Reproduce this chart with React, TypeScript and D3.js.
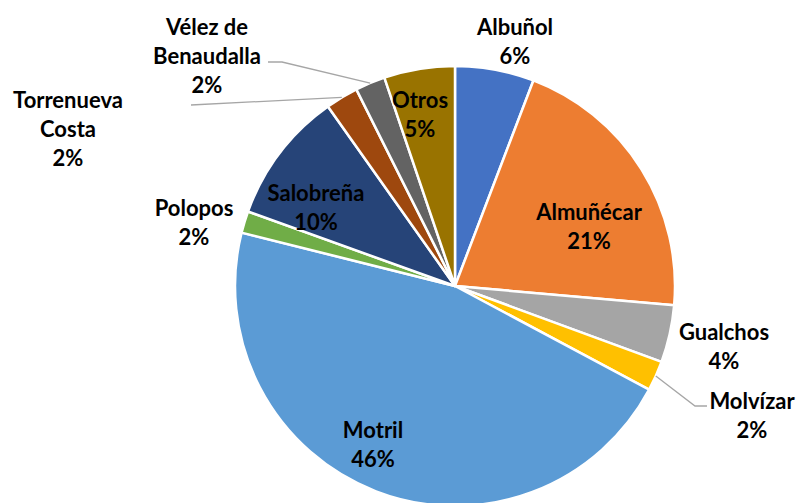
import React, { useEffect, useRef } from 'react';
import * as d3 from 'd3';

const WIDTH = 798;
const HEIGHT = 503;

const municipios = [
  'Albuñol', 'Almuñécar', 'Gualchos', 'Molvízar', 'Motril',
  'Polopos', 'Salobreña', 'Torrenueva Costa', 'Vélez de Benaudalla', 'Otros',
];
const shares = [5.8, 20.6, 4.2, 2.2, 46.1, 1.6, 9.7, 2.4, 2.2, 5.2];
const colors = [
  '#4472C4', '#ED7D31', '#A5A5A5', '#FFC000', '#5B9BD5',
  '#70AD47', '#264478', '#9E480E', '#636363', '#997300',
];

// label layout (text lines + centre of first line), leader lines for outside labels
const labelLines: Record<string, string[]> = {
  'Torrenueva Costa': ['Torrenueva', 'Costa'],
  'Vélez de Benaudalla': ['Vélez de', 'Benaudalla'],
};
const labelPos: Record<string, [number, number]> = {
  'Albuñol': [515, 27],
  'Almuñécar': [589, 212],
  'Gualchos': [724, 332],
  'Molvízar': [752, 401],
  'Motril': [373, 430],
  'Polopos': [194, 208],
  'Salobreña': [316, 193],
  'Torrenueva Costa': [68, 100],
  'Vélez de Benaudalla': [207, 27],
  'Otros': [420, 100],
};
const leaders: Record<string, [number, number][]> = {
  'Torrenueva Costa': [[191, 105]],
  'Vélez de Benaudalla': [[282, 62], [268, 62]],
  'Molvízar': [[695, 406], [707, 406]],
};

const CX = 455;
const CY = 286;
const R = 220;
const LINE_H = 29;

export default function App() {
  const svgRef = useRef<SVGSVGElement | null>(null);

  useEffect(() => {
    if (!svgRef.current) return;
    const svg = d3.select(svgRef.current);
    svg.selectAll('*').remove();

    const data = municipios.map((name, i) => ({ name, value: shares[i], color: colors[i] }));
    const pie = d3.pie<typeof data[number]>().sort(null).value(d => d.value);
    const arcs = pie(data);
    const arc = d3.arc<d3.PieArcDatum<typeof data[number]>>().innerRadius(0).outerRadius(R);

    const g = svg.append('g').attr('transform', `translate(${CX},${CY})`);
    g.selectAll('path')
      .data(arcs)
      .join('path')
      .attr('d', arc as any)
      .attr('fill', d => d.data.color)
      .attr('stroke', '#ffffff')
      .attr('stroke-width', 2.5)
      .attr('stroke-linejoin', 'round');

    // leader lines
    arcs.forEach(a => {
      const pts = leaders[a.data.name];
      if (!pts) return;
      const mid = (a.startAngle + a.endAngle) / 2;
      const start: [number, number] = [CX + Math.sin(mid) * R, CY - Math.cos(mid) * R];
      svg.append('path')
        .attr('d', d3.line()([start, ...pts]) as string)
        .attr('fill', 'none')
        .attr('stroke', '#A6A6A6')
        .attr('stroke-width', 1.3);
    });

    const total = d3.sum(shares);
    arcs.forEach(a => {
      const name = a.data.name;
      const [x, y] = labelPos[name];
      const lines = [...(labelLines[name] ?? [name]), `${Math.round((a.data.value / total) * 100)}%`];
      const t = svg.append('text')
        .attr('text-anchor', 'middle')
        .attr('font-family', 'Lato, "Noto Sans", sans-serif')
        .attr('font-weight', 700)
        .attr('font-size', '22px')
        .attr('fill', '#000000');
      lines.forEach((line, i) => {
        t.append('tspan')
          .attr('x', x)
          .attr('y', y + i * LINE_H)
          .attr('dy', '0.36em')
          .text(line);
      });
    });
  }, []);

  return (
    <div style={{ position: 'absolute', left: 0, top: 0, width: WIDTH, height: HEIGHT, background: '#ffffff' }}>
      <svg ref={svgRef} width={WIDTH} height={HEIGHT} style={{ display: 'block' }} />
    </div>
  );
}
